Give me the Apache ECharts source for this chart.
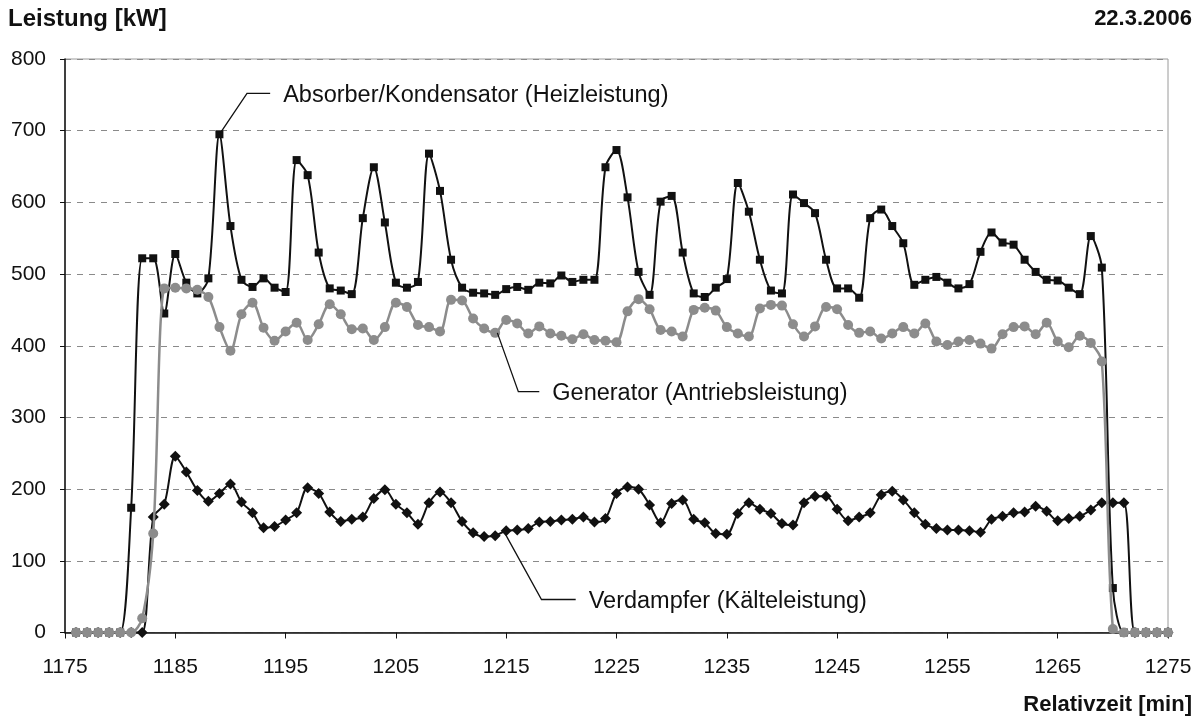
<!DOCTYPE html>
<html><head><meta charset="utf-8">
<script src="https://cdn.jsdelivr.net/npm/echarts@6/dist/echarts.min.js"></script>
<style>html,body{margin:0;padding:0;background:#fff}#c{width:1202px;height:723px}</style>
</head><body><div id="c"></div>
<script>
// ---- data ----
const minutes = [
 1176,1177,1178,1179,1180,1181,1182,1183,1184,1185,1186,1187,1188,1189,1190,1191,1192,1193,1194,1195,
 1196,1197,1198,1199,1200,1201,1202,1203,1204,1205,1206,1207,1208,1209,1210,1211,1212,1213,1214,1215,
 1216,1217,1218,1219,1220,1221,1222,1223,1224,1225,1226,1227,1228,1229,1230,1231,1232,1233,1234,1235,
 1236,1237,1238,1239,1240,1241,1242,1243,1244,1245,1246,1247,1248,1249,1250,1251,1252,1253,1254,1255,
 1256,1257,1258,1259,1260,1261,1262,1263,1264,1265,1266,1267,1268,1269,1270,1271,1272,1273,1274,1275];
const absorber = [
 0,0,0,0,0,174,522,522,445,528,488,473,494,695,567,492,482,494,481,475,
 659,638,530,480,477,472,578,649,572,488,481,489,668,616,520,481,474,473,471,479,
 482,478,488,487,498,489,492,492,649,673,607,503,471,601,609,530,473,468,481,493,
 627,587,520,477,473,611,599,585,520,480,480,467,578,590,567,543,485,492,496,488,
 480,486,531,558,544,541,520,503,492,491,481,472,553,509,62,0,0,0,0,0];
const generator = [
 0,0,0,0,0,0,20,138,480,481,480,478,468,426,393,444,460,425,407,420,
 432,408,430,458,444,423,424,408,426,460,454,429,426,420,464,463,438,424,418,436,
 431,417,427,417,414,409,416,408,407,405,448,465,451,422,420,413,450,453,449,426,
 417,413,452,457,456,430,413,427,454,451,429,418,420,410,417,426,417,431,406,401,
 406,408,403,396,416,426,427,416,432,406,398,414,404,378,5,0,0,0,0,0];
const verdampfer = [
 0,0,0,0,0,0,0,161,179,246,224,198,183,194,207,182,167,146,148,157,
 167,202,194,168,155,158,161,187,199,179,167,151,181,196,181,155,139,134,135,142,
 143,145,154,155,157,158,161,154,159,194,203,200,178,153,180,185,158,153,138,137,
 166,181,172,166,152,150,181,190,190,172,156,161,167,192,197,185,167,151,145,143,
 143,142,140,158,162,167,168,176,169,156,159,162,171,181,181,181,0,0,0,0];
const xMin = 1175, xMax = 1275, xStep = 10;
const yMin = 0, yMax = 800, yStep = 100;
const yTitle = 'Leistung [kW]';
const xTitle = 'Relativzeit [min]';
const dateText = '22.3.2006';
const seriesNames = ['Absorber/Kondensator (Heizleistung)','Generator (Antriebsleistung)','Verdampfer (Kälteleistung)'];
// leader lines: [start on curve, elbow, end] in data units
const leaders = [
 [[1189,695],[1191.5,752],[1193.6,752]],
 [[1214.2,418],[1216.1,336],[1218.0,336]],
 [[1214.9,138],[1218.2,46],[1221.3,46]]
];

// ---- chart ----
const FONT = "'Liberation Sans', Arial, sans-serif";
const pairs = arr => minutes.map((t,i)=>[t, arr[i]]);
const chart = echarts.init(document.getElementById('c'), null, {renderer:'canvas'});
const option = {
  animation:false,
  backgroundColor:'#fff',
  grid:{left:65, top:59, right:34, bottom:90.5, show:true, borderColor:'#9a9a9a', borderWidth:1, backgroundColor:'transparent'},
  xAxis:{type:'value', min:xMin, max:xMax, interval:xStep,
    axisLine:{show:true, lineStyle:{color:'#111', width:1.5}},
    axisTick:{show:true, inside:false, length:6, lineStyle:{color:'#111'}},
    axisLabel:{color:'#111', fontSize:21, fontFamily:FONT, margin:24, formatter:v=>String(v)},
    splitLine:{show:false}},
  yAxis:{type:'value', min:yMin, max:yMax, interval:yStep,
    axisLine:{show:true, lineStyle:{color:'#111', width:1.5}},
    axisTick:{show:true, inside:false, length:5, lineStyle:{color:'#111'}},
    axisLabel:{color:'#111', fontSize:21, fontFamily:FONT, margin:19, formatter:v=>String(v)},
    splitLine:{show:true, lineStyle:{color:'#8a8a8a', type:[6,6], width:1}}},
  series:[
    {name:seriesNames[2], type:'line', data:pairs(verdampfer), symbol:'diamond', symbolSize:11, smooth:0.3,
     lineStyle:{color:'#111', width:2}, itemStyle:{color:'#111'}, z:3},
    {name:seriesNames[0], type:'line', data:pairs(absorber), symbol:'rect', symbolSize:8, smooth:0.3,
     lineStyle:{color:'#111', width:2}, itemStyle:{color:'#111'}, z:4},
    {name:seriesNames[1], type:'line', data:pairs(generator), symbol:'circle', symbolSize:10, smooth:0.3,
     lineStyle:{color:'#8c8c8c', width:2.5}, itemStyle:{color:'#8c8c8c'}, z:5}
  ],
  graphic:[]
};
chart.setOption(option);

const g = [];
g.push({type:'text', left:8, top:7, style:{text:yTitle, font:"bold 24px "+FONT, fill:'#111'}});
g.push({type:'text', right:10, top:8, style:{text:dateText, font:"bold 22px "+FONT, fill:'#111'}});
g.push({type:'text', right:10, top:694, style:{text:xTitle, font:"bold 22px "+FONT, fill:'#111'}});
leaders.forEach((pts, k)=>{
  const px = pts.map(p=>chart.convertToPixel({gridIndex:0}, p));
  g.push({type:'polyline', shape:{points:px}, style:{stroke:'#111', lineWidth:1.3, fill:null}, z:10});
  const end = px[px.length-1];
  g.push({type:'text', x:end[0]+13, y:end[1]+2, style:{text:seriesNames[k], font:"23.5px "+FONT, fill:'#111', verticalAlign:'middle'}, z:10});
});
chart.setOption({graphic:g});
</script></body></html>
